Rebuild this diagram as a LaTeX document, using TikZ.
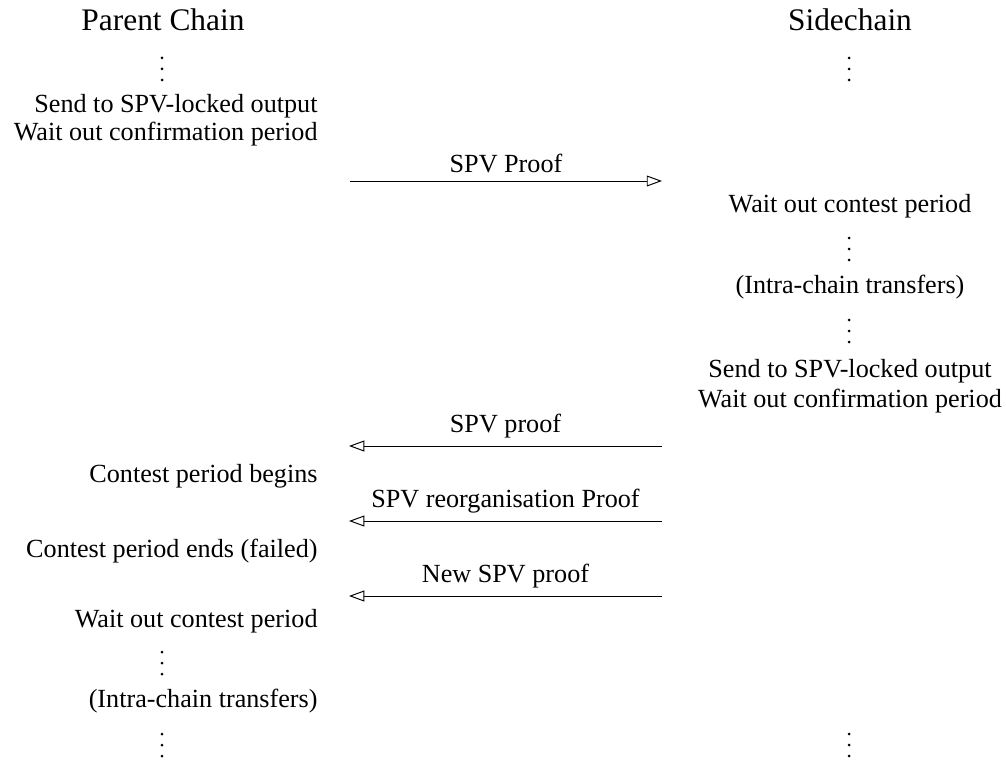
\documentclass[tikz,border=0pt]{standalone}
\usepackage{fontspec}
\setmainfont{Liberation Serif}
\usetikzlibrary{arrows.meta}
\tikzset{
  vdotsym/.pic={
    \fill (0,-11) circle[radius=1.5];
    \fill (0,0) circle[radius=1.5];
    \fill (0,11) circle[radius=1.5];
  }
}
\begin{document}
\begin{tikzpicture}[x=0.4587pt,y=-0.4587pt,
  lefttext/.style={anchor=base east,inner sep=0pt,font=\fontsize{12}{14}\selectfont},
  righttext/.style={anchor=base,inner sep=0pt,font=\fontsize{12}{14}\selectfont},
  heading/.style={anchor=base,inner sep=0pt,font=\fontsize{14.4}{17}\selectfont},
  msg/.style={draw=black,line width=0.45pt},
  tipto/.style={-{Triangle[open,length=7pt,width=5pt,line width=0.45pt]}},
  lbl/.style={above=3.6pt,inner sep=0pt,font=\fontsize{12}{14}\selectfont}
]
\useasboundingbox (0,0) rectangle (1006,761);

% headings
\node[heading] (pc) at (163,31) {Parent Chain};
\node[heading] (sc) at (850,31) {Sidechain};

% left column
\pic (ld1) at (162,69) {vdotsym};
\node[lefttext] (l1) at (318,113) {Send to SPV-locked output};
\node[lefttext] (l2) at (318,141) {Wait out confirmation period};
\node[lefttext] (l3) at (318,482) {Contest period begins};
\node[lefttext] (l4) at (318,557) {Contest period ends (failed)};
\node[lefttext] (l5) at (318,627) {Wait out contest period};
\pic (ld2) at (162,663) {vdotsym};
\node[lefttext] (l6) at (318,707) {(Intra-chain transfers)};
\pic (ld3) at (162,745) {vdotsym};

% right column
\pic (rd1) at (849,69) {vdotsym};
\node[righttext] (r1) at (850,213) {Wait out contest period};
\pic (rd2) at (849,249) {vdotsym};
\node[righttext] (r2) at (850,293) {(Intra-chain transfers)};
\pic (rd3) at (849,331) {vdotsym};
\node[righttext] (r3) at (850,377) {Send to SPV-locked output};
\node[righttext] (r4) at (850,407) {Wait out confirmation period};
\pic (rd4) at (849,745) {vdotsym};

% message end points
\coordinate (p1) at (350,181);
\coordinate (s1) at (662,181);
\coordinate (p2) at (349,446);
\coordinate (s2) at (662,446);
\coordinate (p3) at (349,521);
\coordinate (s3) at (662,521);
\coordinate (p4) at (349,596);
\coordinate (s4) at (662,596);

\draw[msg,tipto] (p1) -- node[lbl] (m1) {SPV Proof} (s1);
\draw[msg,tipto] (s2) -- node[lbl] (m2) {SPV proof} (p2);
\draw[msg,tipto] (s3) -- node[lbl] (m3) {SPV reorganisation Proof} (p3);
\draw[msg,tipto] (s4) -- node[lbl] (m4) {New SPV proof} (p4);
\end{tikzpicture}
\end{document}
